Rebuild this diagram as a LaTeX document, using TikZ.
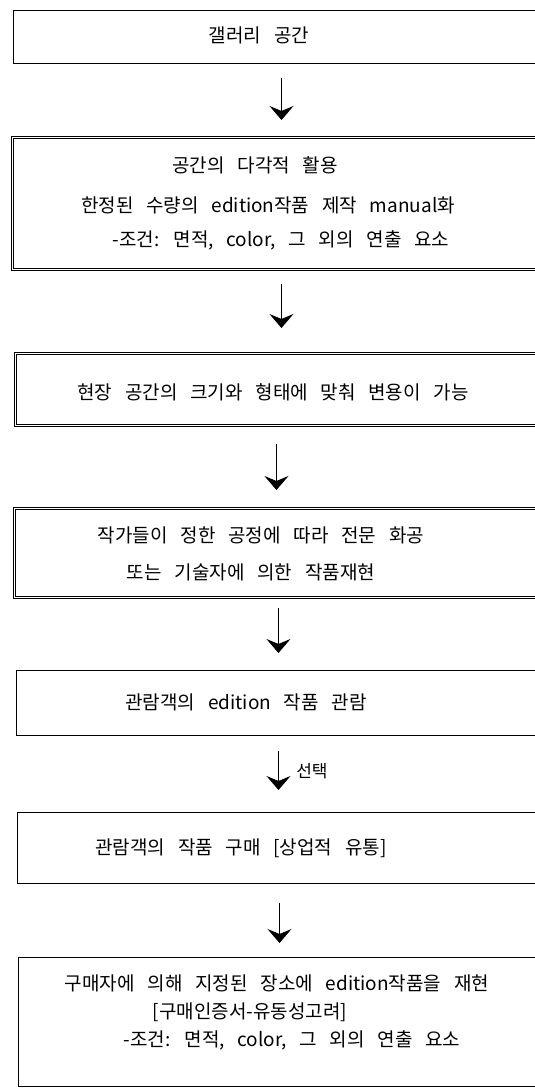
\documentclass[tikz,border=0pt]{standalone}
\usepackage{fontspec}
\setmainfont{Noto Sans CJK KR}[WordSpace=3]
\usetikzlibrary{arrows.meta}

\tikzset{
	box/.style={draw, line width=1pt, anchor=north west, inner sep=0pt},
	dbox/.style={box, double, double distance=1pt, line width=0.9pt},
	txt/.style={font=\fontsize{19}{23}\selectfont, inner sep=0pt},
	flow/.style={-{Stealth[length=14pt,width=24pt,inset=5pt]}, line width=0.9pt}
}

\begin{document}
\begin{tikzpicture}[x=1pt, y=-1pt]
		
		\useasboundingbox (0,0) rectangle (535,1089);
		\clip (0,0) rectangle (535,1089);
		
		% Boxes
		\node [box, minimum width=524pt, minimum height=53pt] (b1) at (13,10){};
		
		\node [dbox, minimum width=525pt, minimum height=132pt] (b2) at (12,137){};
		
		\node [dbox, minimum width=522pt, minimum height=72pt] (b3) at (15,353){};
		
		\node [dbox, minimum width=523pt, minimum height=89pt] (b4) at (14,508){};
		
		\node [box, minimum width=521pt, minimum height=65pt] (b5) at (16,670){};
		
		\node [box, minimum width=520pt, minimum height=71pt] (b6) at (17,812){};
		
		\node [box, minimum width=519pt, minimum height=129pt] (b7) at (18,957){};
		
		% Texts
		\node [txt] (t1) at (259,35) {갤러리 공간};
		
		\node [txt] (t2a) at (255,165) {공간의 다각적 활용};
		\node [txt] (t2b) at (268,205) {한정된 수량의 edition작품 제작 manual화};
		\node [txt] (t2c) at (281,240) {-조건: 면적, color, 그 외의 연출 요소};
		
		\node [txt] (t3) at (273,392) {현장 공간의 크기와 형태에 맞춰 변용이 가능};
		
		\node [txt] (t4a) at (261,535) {작가들이 정한 공정에 따라 전문 화공};
		\node [txt] (t4b) at (251,572) {또는 기술자에 의한 작품재현};
		
		\node [txt] (t5) at (246,702) {관람객의 edition 작품 관람};
		
		\node [txt] (t6) at (241,848) {관람객의 작품 구매 [상업적 유통]};
		
		\node [txt] (t7a) at (277,983) {구매자에 의해 지정된 장소에 edition작품을 재현};
		\node [txt] (t7b) at (250,1012) {[구매인증서-유동성고려]};
		\node [txt] (t7c) at (292,1040) {-조건: 면적, color, 그 외의 연출 요소};
		
		% Arrows
		\draw [flow, shorten <=14pt, shorten >=17pt] ([xshift=6pt]b1.south) -- ([xshift=6pt]b1.south |- b2.north);
		
		\draw [flow, shorten <=14pt, shorten >=25pt] ([xshift=6.5pt]b2.south) -- ([xshift=6.5pt]b2.south |- b3.north);
		
		\draw [flow, shorten <=18pt, shorten >=18pt] (b3.south) -- (b3.south |- b4.north);
		
		\draw [flow, shorten <=10pt, shorten >=17pt] ([xshift=2.5pt]b4.south) -- ([xshift=2.5pt]b4.south |- b5.north);
		
		\draw [flow, shorten <=15pt, shorten >=22pt] ([xshift=1.5pt]b5.south) -- node[right=14pt, yshift=3pt, font=\fontsize{17}{19}\selectfont] (sel) {선택} ([xshift=1.5pt]b5.south |- b6.north);
		
		\draw [flow, shorten <=19pt, shorten >=14pt] ([xshift=2pt]b6.south) -- ([xshift=2pt]b6.south |- b7.north);
		
	\end{tikzpicture}
\end{document}
